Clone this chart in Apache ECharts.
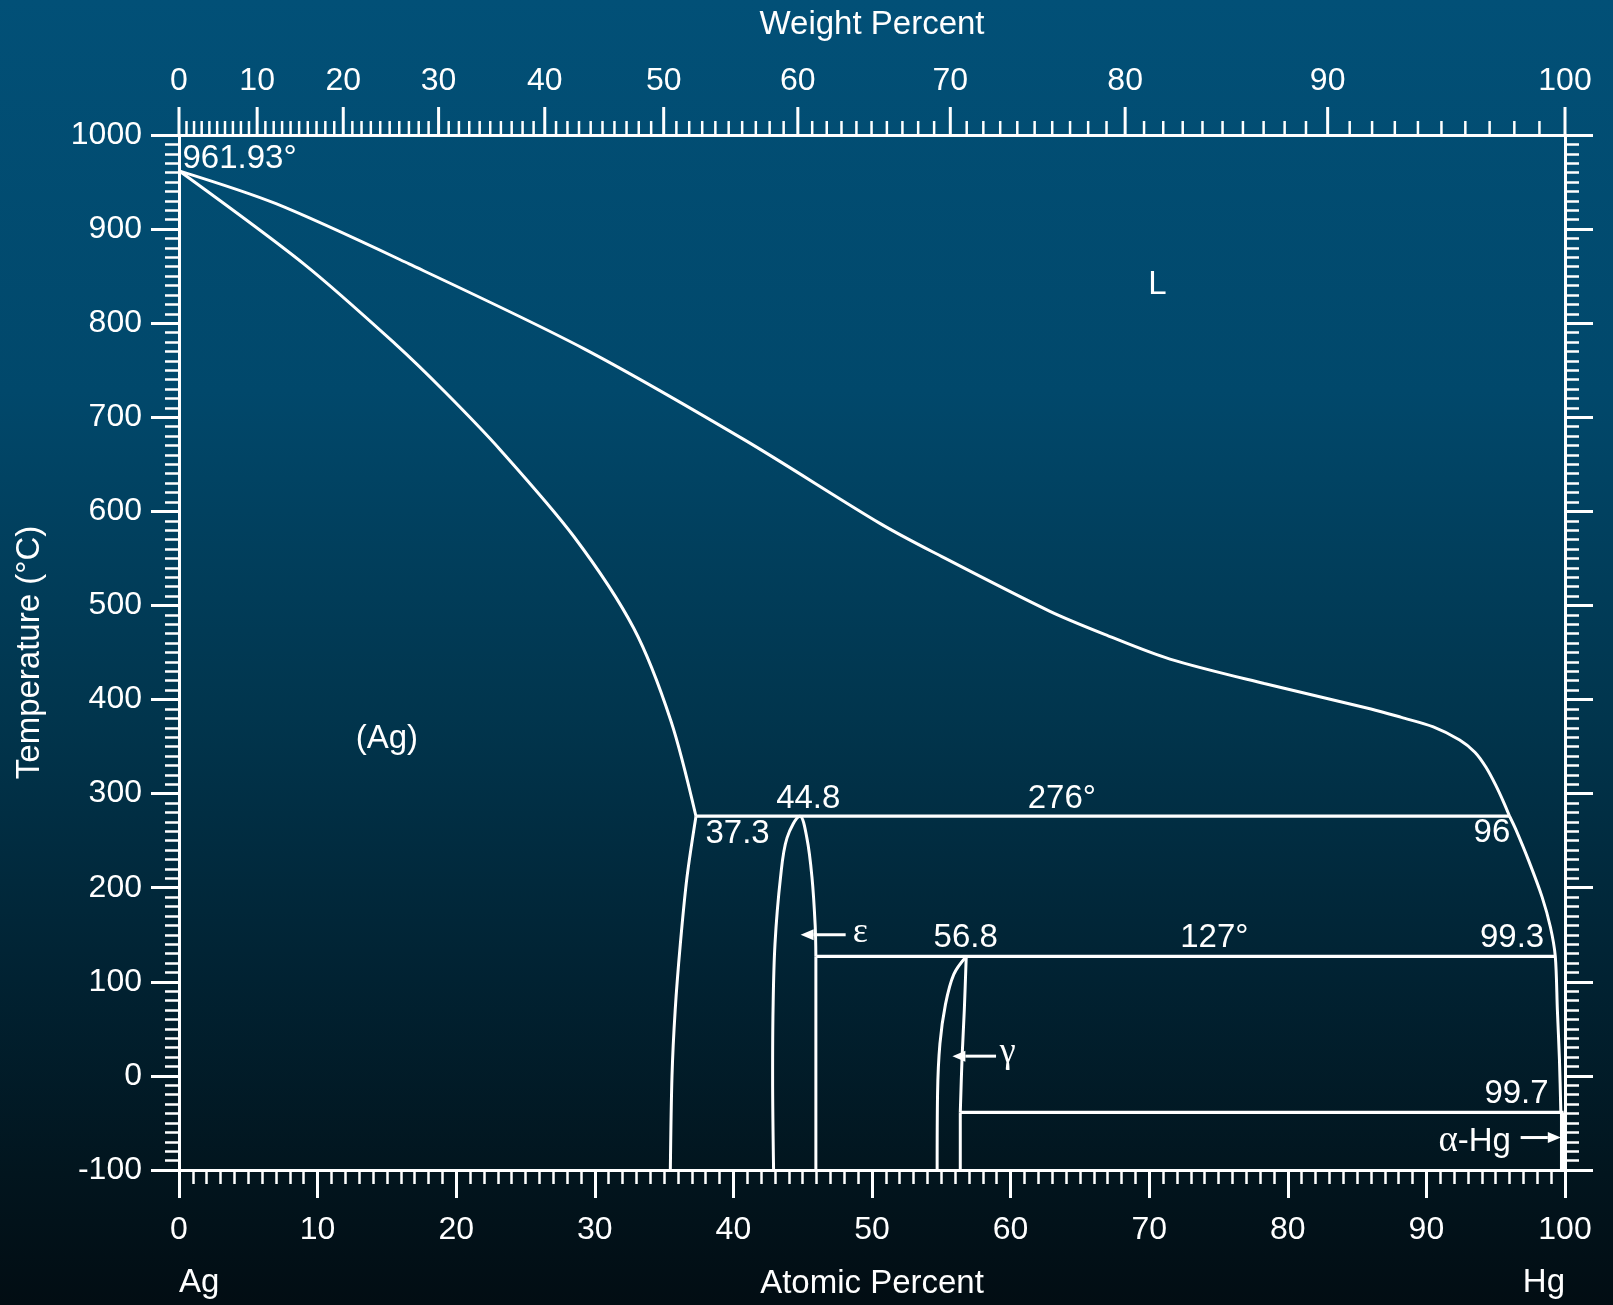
<!DOCTYPE html>
<html>
<head>
<meta charset="utf-8">
<title>Ag-Hg Phase Diagram</title>
<script src="https://cdn.jsdelivr.net/npm/echarts@6/dist/echarts.min.js"></script>
<style>
  html, body { margin: 0; padding: 0; background: #012a3d; }
  #chart { width: 1613px; height: 1305px; }
</style>
</head>
<body>
<div id="chart"></div>
<script>
// Ag–Hg binary phase diagram: temperature (°C) versus atomic percent Hg,
// with a secondary weight-percent scale along the top edge.

// Atomic masses used to place the weight-percent ticks on the atomic scale
const MASS_AG = 107.8682;
const MASS_HG = 200.59;

// Phase boundaries: [atomic % Hg, temperature °C]
const liquidus = [[0, 961.93], [7.0, 927], [16.6, 863], [29.2, 773], [40.8, 676], [50.6, 587],
  [54.5, 556], [62.8, 494], [67.0, 468], [71.5, 443], [78.3, 417], [86.0, 390], [88.2, 381],
  [90.5, 371], [92.4, 357], [93.5, 344], [94.3, 328], [95.0, 309], [95.6, 290], [96, 276]];
const solidus = [[0, 961.93], [9.0, 863], [15.6, 778], [19.25, 726], [23.2, 665],
  [28.5, 573], [32.8, 476], [35.5, 377], [37.3, 276]];
const agSolvus = [[37.3, 276], [36.65, 211], [36.17, 140], [35.8, 70], [35.57, 0], [35.45, -100]];
const epsilonDome = [[42.9, -100], [42.83, 0], [42.86, 70], [43.0, 140], [43.4, 211], [43.87, 253],
  [44.8, 276], [45.3, 253], [45.67, 211], [45.9, 160], [45.95, 127]];
const epsilonRight = [[45.95, 127], [45.95, -100]];
const peritectic276 = [[37.3, 276], [96, 276]];
const peritectic127 = [[45.95, 127], [99.3, 127]];
const gammaLeft = [[54.7, -100], [54.73, -19], [54.9, 34], [55.3, 76], [55.9, 108], [56.8, 127]];
const gammaRight = [[56.8, 127], [56.66, 70], [56.5, 20], [56.37, -38.84]];
const gammaBase = [[56.37, -38.84], [56.37, -100]];
const hgSolvus = [[96, 276], [96.45, 262], [97.4, 228], [98.35, 190], [98.95, 158], [99.3, 127],
  [99.45, 70], [99.6, 17], [99.7, -38.84]];
const eutectic = [[56.37, -38.84], [99.9, -38.84]];
const alphaHg = [[99.8, -38.84], [99.8, -100]];

// Axis ticks
const temperatureTicks = [-100, 0, 100, 200, 300, 400, 500, 600, 700, 800, 900, 1000];
const atomicTicks = [0, 10, 20, 30, 40, 50, 60, 70, 80, 90, 100];
const weightTicks = [0, 10, 20, 30, 40, 50, 60, 70, 80, 90, 100];
const weightMinorTicks = [];
for (let w = 1; w < 100; w++) if (w % 10 !== 0) weightMinorTicks.push(w);

// Labels inside the diagram: text, atomic %, temperature, alignment
const phaseLabels = [
  { text: '961.93°', at: 0.25, t: 975, align: 'left' },
  { text: 'L', at: 70.6, t: 841, align: 'center' },
  { text: '(Ag)', at: 15.0, t: 358, align: 'center' },
  { text: '44.8', at: 45.4, t: 294, align: 'center' },
  { text: '276°', at: 63.7, t: 294, align: 'center' },
  { text: '37.3', at: 40.3, t: 257, align: 'center' },
  { text: '96', at: 96.05, t: 258, align: 'right' },
  { text: '56.8', at: 56.76, t: 147, align: 'center' },
  { text: '127°', at: 74.7, t: 147, align: 'center' },
  { text: '99.3', at: 98.5, t: 146.5, align: 'right' },
  { text: '99.7', at: 98.82, t: -19.5, align: 'right' },
  { text: 'ε', at: 49.15, t: 152, align: 'center', serif: true },
  { text: 'γ', at: 59.8, t: 25, align: 'center', serif: true },
  { text: '{a|α}-Hg', at: 96.1, t: -70, align: 'right' }
];

// Pointer arrows: [from at%, from T, to at%, to T]
const arrows = [[48.1, 150, 44.85, 150], [58.95, 21, 55.8, 21], [96.8, -65.5, 99.7, -65.5]];

const FONT = '"Liberation Sans", Arial, Helvetica, sans-serif';
const SERIF = '"Liberation Serif", "Times New Roman", serif';
const WHITE = '#ffffff';

function wtToAt(w) {
  const nHg = w / MASS_HG;
  const nAg = (100 - w) / MASS_AG;
  return 100 * nHg / (nHg + nAg);
}

function boundary(name, data, width, smooth) {
  return {
    name: name, type: 'line', data: data, xAxisIndex: 0, yAxisIndex: 0,
    showSymbol: false, symbol: 'none', smooth: smooth || false,
    lineStyle: { color: WHITE, width: width }, silent: true, z: 3
  };
}

const topTickData = weightTicks.map(w => [wtToAt(w), 1000, w, 1])
  .concat(weightMinorTicks.map(w => [wtToAt(w), 1000, w, 0]));

const chart = echarts.init(document.getElementById('chart'), null, { width: 1613, height: 1305 });

const axisCommon = {
  type: 'value',
  min: -100, max: 1000, interval: 100,
  splitLine: { show: false },
  axisLine: { show: true, lineStyle: { color: WHITE, width: 3 } },
  axisTick: { show: true, length: 28, lineStyle: { color: WHITE, width: 3 } },
  minorTick: { show: true, splitNumber: 10, length: 14, lineStyle: { color: WHITE, width: 2.5 } },
  minorSplitLine: { show: false }
};

chart.setOption({
  animation: false,
  backgroundColor: {
    type: 'linear', x: 0, y: 0, x2: 0, y2: 1,
    colorStops: [
      { offset: 0, color: '#025077' },
      { offset: 0.3, color: '#01486b' },
      { offset: 0.55, color: '#01354d' },
      { offset: 0.75, color: '#012232' },
      { offset: 0.9, color: '#02151e' },
      { offset: 1, color: '#020d13' }
    ]
  },
  grid: { left: 179, top: 135, width: 1386, height: 1039, containLabel: false },
  xAxis: [
    {
      type: 'value', position: 'bottom', min: 0, max: 100, interval: 10,
      name: 'Atomic Percent', nameLocation: 'middle', nameGap: 97,
      nameTextStyle: { color: WHITE, fontSize: 33, fontFamily: FONT },
      splitLine: { show: false },
      axisLine: { show: true, onZero: false, lineStyle: { color: WHITE, width: 3 } },
      axisTick: { show: true, length: 28, lineStyle: { color: WHITE, width: 3 } },
      minorTick: { show: true, splitNumber: 10, length: 14, lineStyle: { color: WHITE, width: 2.5 } },
      axisLabel: { color: WHITE, fontSize: 32, fontFamily: FONT, margin: 44 }
    },
    {
      type: 'value', position: 'top', min: 0, max: 100,
      name: 'Weight Percent', nameLocation: 'middle', nameGap: 94,
      nameTextStyle: { color: WHITE, fontSize: 33, fontFamily: FONT },
      splitLine: { show: false },
      axisLine: { show: true, onZero: false, lineStyle: { color: WHITE, width: 3 } },
      axisTick: { show: false },
      axisLabel: { show: false }
    }
  ],
  yAxis: [
    Object.assign({}, axisCommon, {
      position: 'left',
      name: 'Temperature (°C)', nameLocation: 'middle', nameGap: 133, nameRotate: 90,
      nameTextStyle: { color: WHITE, fontSize: 33, fontFamily: FONT },
      axisLine: { show: true, onZero: false, lineStyle: { color: WHITE, width: 3 } },
      axisLabel: { color: WHITE, fontSize: 32, fontFamily: FONT, margin: 37,
        formatter: function (v) { return String(v); } }
    }),
    Object.assign({}, axisCommon, {
      position: 'right',
      axisLine: { show: true, onZero: false, lineStyle: { color: WHITE, width: 3 } },
      axisLabel: { show: false }
    })
  ],
  series: [
    boundary('liquidus', liquidus, 3, 0.3),
    boundary('solidus', solidus, 3, 0.3),
    boundary('Ag solvus', agSolvus, 3, 0.3),
    boundary('epsilon', epsilonDome, 3, 0.35),
    boundary('epsilon right', epsilonRight, 3),
    boundary('276', peritectic276, 3.2),
    boundary('127', peritectic127, 3.2),
    boundary('gamma left', gammaLeft, 3, 0.35),
    boundary('gamma right', gammaRight, 3, 0.3),
    boundary('gamma base', gammaBase, 3),
    boundary('Hg solvus', hgSolvus, 3, 0.3),
    boundary('eutectic', eutectic, 3.2),
    boundary('alpha-Hg', alphaHg, 4.5),
    {
      // weight-percent scale along the top edge
      type: 'custom', name: 'weight scale', xAxisIndex: 0, yAxisIndex: 0,
      data: topTickData, silent: true, clip: false, z: 4,
      encode: { x: 0, y: 1 },
      renderItem: function (params, api) {
        const p = api.coord([api.value(0), api.value(1)]);
        const major = api.value(3) === 1;
        const children = [{
          type: 'line',
          shape: { x1: p[0], y1: p[1], x2: p[0], y2: p[1] - (major ? 28 : 14) },
          style: { stroke: WHITE, lineWidth: major ? 3 : 2.5 }
        }];
        if (major) {
          children.push({
            type: 'text', x: p[0], y: p[1] - 54,
            style: {
              text: String(api.value(2)), fill: WHITE, fontSize: 32, fontFamily: FONT,
              align: 'center', verticalAlign: 'middle', textAlign: 'center', textVerticalAlign: 'middle'
            }
          });
        }
        return { type: 'group', children: children };
      }
    },
    {
      // element names under the ends of the atomic axis
      type: 'custom', name: 'elements', xAxisIndex: 0, yAxisIndex: 0,
      data: [[0, -100, 0], [100, -100, 1]], silent: true, clip: false, z: 4,
      encode: { x: 0, y: 1 },
      renderItem: function (params, api) {
        const p = api.coord([api.value(0), api.value(1)]);
        const left = api.value(2) === 0;
        return {
          type: 'text', x: p[0], y: p[1] + 113,
          style: {
            text: left ? 'Ag' : 'Hg', fill: WHITE, fontSize: 33, fontFamily: FONT,
            align: left ? 'left' : 'right', verticalAlign: 'middle',
            textAlign: left ? 'left' : 'right', textVerticalAlign: 'middle'
          }
        };
      }
    },
    {
      // phase-field and invariant labels
      type: 'custom', name: 'labels', xAxisIndex: 0, yAxisIndex: 0,
      data: phaseLabels.map(d => [d.at, d.t]), silent: true, clip: false, z: 5,
      encode: { x: 0, y: 1 },
      renderItem: function (params, api) {
        const d = phaseLabels[params.dataIndex];
        const p = api.coord([api.value(0), api.value(1)]);
        return {
          type: 'text', x: p[0], y: p[1],
          style: {
            text: d.text, fill: WHITE,
            fontSize: d.serif ? 36 : 33, fontFamily: d.serif ? SERIF : FONT,
            align: d.align, verticalAlign: 'middle',
            textAlign: d.align, textVerticalAlign: 'middle',
            rich: { a: { fontFamily: SERIF, fontSize: 37, fill: WHITE, textFill: WHITE } }
          }
        };
      }
    },
    {
      // pointer arrows
      type: 'custom', name: 'arrows', xAxisIndex: 0, yAxisIndex: 0,
      data: arrows, silent: true, clip: false, z: 5,
      encode: { x: [0, 2], y: [1, 3] },
      renderItem: function (params, api) {
        const a = api.coord([api.value(0), api.value(1)]);
        const b = api.coord([api.value(2), api.value(3)]);
        const dx = b[0] - a[0], dy = b[1] - a[1];
        const len = Math.sqrt(dx * dx + dy * dy);
        const ux = dx / len, uy = dy / len;
        const head = 13, half = 5.5;
        const bx = b[0] - ux * head, by = b[1] - uy * head;
        return {
          type: 'group',
          children: [
            { type: 'line', shape: { x1: a[0], y1: a[1], x2: bx, y2: by },
              style: { stroke: WHITE, lineWidth: 3 } },
            { type: 'polygon',
              shape: { points: [[b[0], b[1]], [bx - uy * half, by + ux * half], [bx + uy * half, by - ux * half]] },
              style: { fill: WHITE } }
          ]
        };
      }
    }
  ]
});
</script>
</body>
</html>
